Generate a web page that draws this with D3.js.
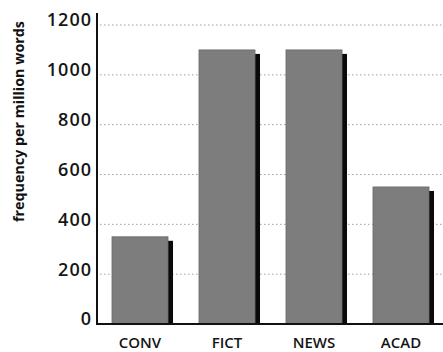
<!DOCTYPE html>
<html>
<head>
<meta charset="utf-8">
<script src="https://cdn.jsdelivr.net/npm/d3@7"></script>
<style>
  html, body { margin: 0; padding: 0; background: #fff; }
  svg { display: block; font-family: "Open Sans", "Noto Sans", sans-serif; }
</style>
</head>
<body>
<svg id="chart" width="443" height="352"></svg>
<script>
// Register frequencies per million words
const categories = ["CONV", "FICT", "NEWS", "ACAD"];
const values = [350, 1100, 1100, 550];
const yTicks = [0, 200, 400, 600, 800, 1000, 1200];
const yTitle = "frequency per million words";

const svg = d3.select("#chart");
const W = 443, H = 352;

const y = d3.scaleLinear().domain([0, 1200]).range([324, 25]);
const x = d3.scaleBand()
  .domain(categories)
  .range([96.5, 444.5])
  .paddingInner(0.356)
  .paddingOuter(0.178);

const axisX = 97;

// dotted gridlines
svg.append("g")
  .selectAll("line")
  .data(yTicks.filter(d => d > 0))
  .join("line")
  .attr("x1", axisX + 3)
  .attr("x2", W)
  .attr("y1", d => y(d))
  .attr("y2", d => y(d))
  .attr("stroke", "#a0a0a0")
  .attr("stroke-width", 1)
  .attr("stroke-dasharray", "1.5,2.5");

// bar shadows
const shadowDx = 5, shadowDy = 4;
svg.append("g")
  .selectAll("rect")
  .data(values)
  .join("rect")
  .attr("x", (d, i) => x(categories[i]) + shadowDx)
  .attr("y", d => y(d) + shadowDy)
  .attr("width", x.bandwidth())
  .attr("height", d => y(0) - y(d) - shadowDy)
  .attr("fill", "#0a0a0a");

// bars
svg.append("g")
  .selectAll("rect")
  .data(values)
  .join("rect")
  .attr("x", (d, i) => x(categories[i]))
  .attr("y", d => y(d))
  .attr("width", x.bandwidth())
  .attr("height", d => y(0) - y(d))
  .attr("fill", "#7d7d7d")
  .attr("stroke", "#6a6a6a")
  .attr("stroke-width", 0.8);

// y axis: labels sit with their baseline on the gridline
const yAxis = d3.axisLeft(y).tickValues(yTicks).tickSize(0).tickPadding(6).tickFormat(d3.format("d"));
const gy = svg.append("g").attr("transform", `translate(${axisX},0)`).call(yAxis);
gy.select(".domain").remove();
gy.selectAll("text")
  .attr("dx", 1)
  .attr("dy", "0.05em")
  .attr("font-size", 18)
  .attr("font-weight", 600)
  .attr("letter-spacing", 1)
  .attr("fill", "#151515")
  .attr("font-family", "'Open Sans', sans-serif");

svg.append("line")
  .attr("x1", axisX).attr("x2", axisX)
  .attr("y1", 13).attr("y2", y(0) + 1)
  .attr("stroke", "#111").attr("stroke-width", 2);

// x axis
const xAxis = d3.axisBottom(x).tickSize(0).tickPadding(13);
const gx = svg.append("g").attr("transform", `translate(0,${y(0)})`).call(xAxis);
gx.select(".domain").remove();
gx.selectAll("text")
  .attr("font-size", 15)
  .attr("font-weight", 600)
  .attr("fill", "#151515")
  .attr("font-family", "'Open Sans', sans-serif");

svg.append("line")
  .attr("x1", axisX - 1).attr("x2", W)
  .attr("y1", y(0)).attr("y2", y(0))
  .attr("stroke", "#111").attr("stroke-width", 2);

// y axis title
svg.append("text")
  .attr("transform", `translate(18,${(20 + 223) / 2}) rotate(-90)`)
  .attr("text-anchor", "middle")
  .attr("dominant-baseline", "central")
  .attr("font-size", 14.3)
  .attr("font-weight", 700)
  .attr("fill", "#111")
  .text(yTitle);
</script>
</body>
</html>
